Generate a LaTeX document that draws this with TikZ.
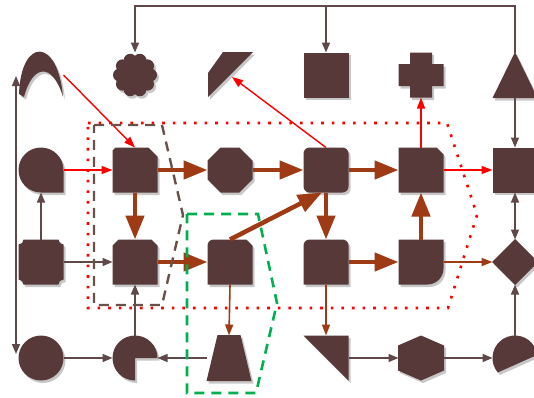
\documentclass[tikz,border=0pt]{standalone}
\usetikzlibrary{arrows.meta,shadows,calc}
\definecolor{shapecol}{HTML}{583939}
\definecolor{edgebrown}{HTML}{604848}
\definecolor{rust}{HTML}{9E3A14}
\definecolor{dashbrown}{HTML}{6B5047}
\definecolor{dashgreen}{HTML}{00B050}
\begin{document}
\begin{tikzpicture}[x=1pt,y=1pt,
 slot/.style={shape=rectangle, minimum size=45pt, inner sep=0pt, outer sep=0pt, draw=none},
 shp/.style={fill=shapecol, drop shadow={shadow xshift=2pt, shadow yshift=-2.5pt, opacity=0.22, fill=black}},
 thickarr/.style={draw=rust, line width=4.5pt, -{Triangle[length=24pt,width=18pt]}},
 grayarr/.style={draw=edgebrown, line width=1.5pt, -{Triangle[length=10pt,width=8pt]}},
 grayboth/.style={draw=edgebrown, line width=1.5pt, {Triangle[length=10pt,width=8pt]}-{Triangle[length=10pt,width=8pt]}},
 redarr/.style={draw=red, line width=1.4pt, -{Triangle[length=11pt,width=8pt]}},
 rustarr/.style={draw=rust, line width=1.6pt, -{Triangle[length=11pt,width=8pt]}},
 dotregion/.style={draw=red, line width=2.6pt, dash pattern=on 2.6pt off 8pt},
 brownregion/.style={draw=dashbrown, line width=2.4pt, dash pattern=on 10pt off 7pt},
 greenregion/.style={draw=dashgreen, line width=2.6pt, dash pattern=on 10pt off 7pt},
]
\useasboundingbox (0,0) rectangle (534,-397);

% slots (named nodes)
\node[slot] (n00) at (41,-75) {};
\node[slot] (n01) at (135,-75) {};
\node[slot] (n02) at (230,-75) {};
\node[slot] (n03) at (326,-75) {};
\node[slot] (n04) at (421,-75) {};
\node[slot] (n05) at (515,-75) {};
\node[slot] (n10) at (41,-170) {};
\node[slot] (n11) at (135,-170) {};
\node[slot] (n12) at (230,-170) {};
\node[slot] (n13) at (326,-170) {};
\node[slot] (n14) at (421,-170) {};
\node[slot] (n15) at (515,-170) {};
\node[slot] (n20) at (41,-262) {};
\node[slot] (n21) at (135,-262) {};
\node[slot] (n22) at (230,-262) {};
\node[slot] (n23) at (326,-262) {};
\node[slot] (n24) at (421,-262) {};
\node[slot] (n25) at (515,-262) {};
\node[slot] (n30) at (41,-358) {};
\node[slot] (n31) at (135,-358) {};
\node[slot] (n32) at (229,-358) {};
\node[slot] (n33) at (326,-358) {};
\node[slot] (n34) at (421,-358) {};
\node[slot] (n35) at (515,-358) {};

% shapes
\fill[shp, shift={(n00.center)}] (-22,-19) .. controls (-20,38) and (17,38) .. (22,-22) .. controls (12,12) and (-8,12) .. (-17,-22) -- cycle;
\fill[shp, shift={(n01.center)}] (0,0) circle (16) foreach \a in {0,36,...,324} {(\a:15.5) circle (6.5)};
\fill[shp, shift={(n02.center)}] (-7,23) -- (23,23) -- (-22,-22) -- (-22,2) -- cycle;
\fill[shp, shift={(n03.center)}] (-22.5,-22.5) rectangle (22.5,22.5);
\fill[shp, shift={(n04.center)}] (-11,22.5) -- (11,22.5) -- (11,11) -- (22.5,11) -- (22.5,-11) -- (11,-11) -- (11,-22.5) -- (-11,-22.5) -- (-11,-11) -- (-22.5,-11) -- (-22.5,11) -- (-11,11) -- cycle;
\fill[shp, shift={(n05.center)}] (-22.5,-23) -- (0,23) -- (22.5,-23) -- cycle;

\fill[shp, shift={(n10.center)}] (22.5,-22.5) -- (22.5,0) arc (0:180:22.5) arc (180:270:22.5) -- cycle;
\fill[shp, shift={(n11.center)}] (-22.5,-22.5) -- (-22.5,19.5) -- (-19.5,22.5) -- (13.5,22.5) -- (22.5,13.5) -- (22.5,-22.5) -- cycle;
\fill[shp, shift={(n12.center)}] (22.5,9.3) -- (9.3,22.5) -- (-9.3,22.5) -- (-22.5,9.3) -- (-22.5,-9.3) -- (-9.3,-22.5) -- (9.3,-22.5) -- (22.5,-9.3) -- cycle;
\fill[shp, shift={(n13.center)}, rounded corners=6pt] (-22.5,-22.5) rectangle (22.5,22.5);
\fill[shp, shift={(n14.center)}] (-22.5,-22.5) -- (-22.5,22.5) -- (15.5,22.5) -- (22.5,15.5) -- (22.5,-22.5) -- cycle;
\fill[shp, shift={(n15.center)}] (-22.5,-22.5) rectangle (22.5,22.5);

\fill[shp, shift={(n20.center)}] (-17.5,22.5) -- (17.5,22.5) arc (180:270:5) -- (22.5,-17.5) arc (90:180:5) -- (-17.5,-22.5) arc (0:90:5) -- (-22.5,17.5) arc (270:360:5) -- cycle;
\fill[shp, shift={(n21.center)}] (-22.5,-22.5) -- (-22.5,16.5) -- (-16.5,22.5) -- (16.5,22.5) -- (22.5,16.5) -- (22.5,-22.5) -- cycle;
\fill[shp, shift={(n22.center)}] (-22.5,-22.5) -- (-22.5,16.5) arc (180:90:6) -- (16.5,22.5) -- (22.5,16.5) -- (22.5,-22.5) -- cycle;
\fill[shp, shift={(n23.center)}] (-22.5,-22.5) -- (-22.5,16.5) arc (180:90:6) -- (16.5,22.5) arc (90:0:6) -- (22.5,-22.5) -- cycle;
\fill[shp, shift={(n24.center)}] (-22.5,-22.5) -- (-22.5,22.5) -- (22.5,22.5) -- (22.5,-6.5) arc (0:-90:16) -- cycle;
\fill[shp, shift={(n25.center)}] (0,23) -- (23,0) -- (0,-23) -- (-23,0) -- cycle;

\fill[shp, shift={(n30.center)}] (0,0) circle (22.5);
\fill[shp, shift={(n31.center)}] (0,0) -- (22.5,0) arc (0:270:22.5) -- cycle;
\fill[shp, shift={(n32.center)}] (-11.5,23) -- (11.5,23) -- (22.5,-23) -- (-22.5,-23) -- cycle;
\fill[shp, shift={(n33.center)}] (-22.5,22.5) -- (22.5,22.5) -- (22.5,-22.5) -- cycle;
\fill[shp, shift={(n34.center)}] (0,22.5) -- (23,12.5) -- (23,-12.5) -- (0,-22.5) -- (-23,-12.5) -- (-23,12.5) -- cycle;
\fill[shp, shift={(n35.center)}] (8:22.5) arc (8:220:22.5) -- cycle;

% thick connectors
\draw[thickarr] (n11.east) -- (n12.west);
\draw[thickarr] (n12.east) -- (n13.west);
\draw[thickarr] (n13.east) -- (n14.west);
\draw[thickarr] (n11.south) -- (n21.north);
\draw[thickarr] (n21.east) -- (n22.west);
\draw[thickarr] (n22.north) -- ([xshift=-4pt]n13.south);
\draw[thickarr] (n13.south) -- (n23.north);
\draw[thickarr] (n23.east) -- (n24.west);
\draw[thickarr] (n24.north) -- (n14.south);

% thin connectors
\draw[redarr] (n00.east) -- (n11.north);
\draw[redarr] (n10.east) -- (n11.west);
\draw[redarr] (n13.north) -- ($(n02.center)+(2,-2)$);
\draw[redarr] (n14.north) -- (n04.south);
\draw[redarr] (n14.east) -- (n15.west);

\draw[grayarr] (n20.east) -- (n21.west);
\draw[grayarr] (n20.north) -- (n10.south);
\draw[grayarr] (n05.south) -- (n15.north);
\draw[grayboth] (n15.south) -- (n25.north);
\draw[grayarr] (n32.west) -- (n31.east);
\draw[grayarr] (n31.north) -- (n21.south);
\draw[grayarr] (n30.east) -- (n31.west);
\draw[grayarr] (n33.east) -- (n34.west);
\draw[grayarr] (n34.east) -- (n35.west);
\draw[grayarr] (n35.north) -- (n25.south);

\draw[rustarr] (n24.east) -- (n25.west);
\draw[rustarr] (n22.south) -- (n32.north);
\draw[rustarr] (n23.south) -- (n33.north);

\coordinate (tp) at (0,-6);
\draw[grayarr] (n05.north) -- (n05.north |- tp) -| (n01.north);
\draw[grayarr] (n03.north |- tp) -- (n03.north);

\coordinate (lt) at (16,-76);
\coordinate (lb) at (16,-354);
\draw[grayboth] (lb) -- (lt);

% regions
\draw[dotregion] (88,-123) -- (447,-123) -- (477,-215) -- (448,-308) -- (88,-308) -- cycle;
\draw[brownregion] (94,-125) -- (162,-125) -- (183,-215) -- (162,-305) -- (94,-305) -- cycle;
\draw[greenregion] (187,-214) -- (258,-214) -- (277,-303) -- (256,-393) -- (187,-393) -- cycle;
\end{tikzpicture}
\end{document}
